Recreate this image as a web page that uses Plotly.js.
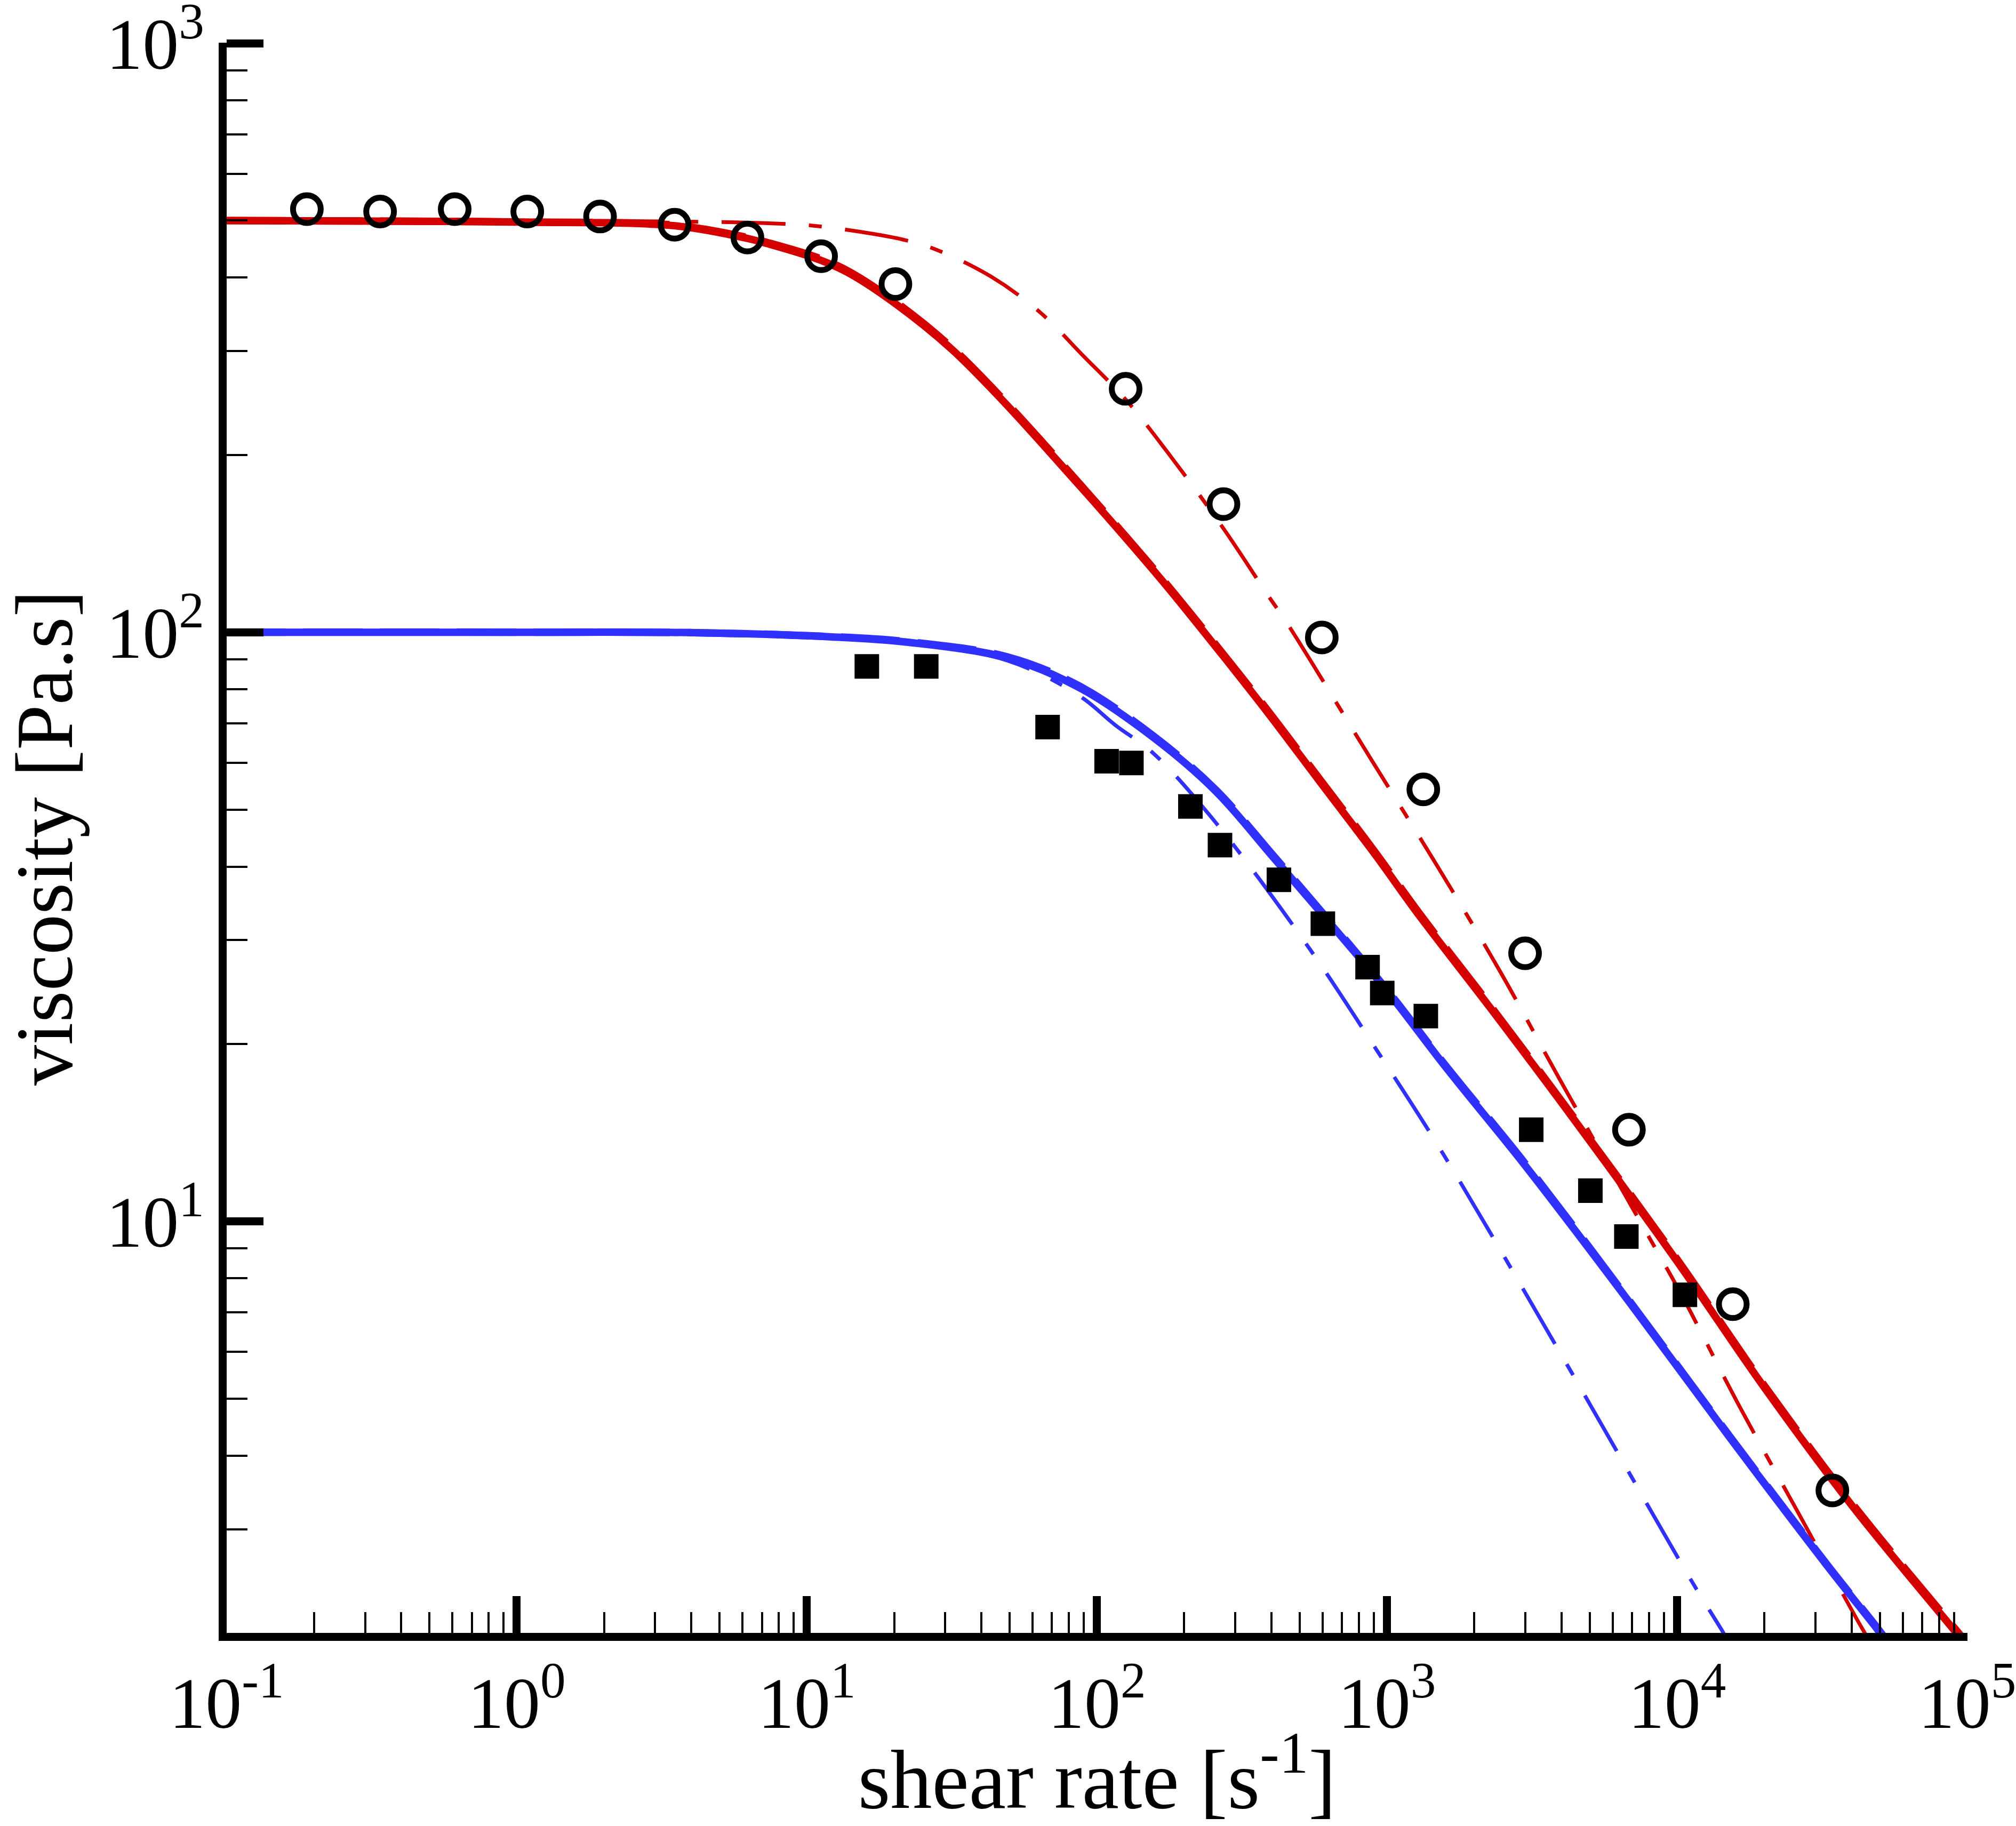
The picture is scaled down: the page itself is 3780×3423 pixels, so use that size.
<!DOCTYPE html>
<html>
<head>
<meta charset="utf-8">
<script src="https://cdn.plot.ly/plotly-3.0.1.min.js"></script>
<style>
html,body{margin:0;padding:0;background:#fff;}
#chart{width:3780px;height:3423px;}
</style>
</head>
<body>
<div id="chart"></div>
<script>
// ---------- data ----------
// experimental data, sample 1 (open circles)
var circleX = [0.189, 0.338, 0.611, 1.087, 1.937, 3.50, 6.24, 11.2, 20.2, 125.6, 273, 596, 1334, 2992, 6823, 15560, 34300];
var circleY = [523, 518, 523, 518, 508, 492, 468, 435, 390, 259, 165, 98.0, 54.1, 28.5, 14.3, 7.23, 3.49];

// experimental data, sample 2 (filled squares)
var squareX = [16.1, 25.8, 67.6, 108, 131.5, 210, 265.6, 424, 601, 857, 963, 1361, 3142, 5024, 6685, 10640];
var squareY = [87.5, 87.5, 69.0, 60.4, 60.0, 50.6, 43.5, 38.0, 32.0, 27.0, 24.4, 22.3, 14.3, 11.27, 9.42, 7.50];

// red model curves
var redSolidX = [0.1, 0.316, 1.05, 3.50, 6.19, 7.29, 11.12, 13.93, 20.18, 31.33, 46.99, 78.52, 127.1, 174.2, 265, 390, 596, 908, 1288, 2259, 4276, 9931, 20040, 40460, 89540, 100000];
var redSolidY = [500, 499, 497, 490, 466.7, 457, 428.5, 407.4, 361.4, 303.4, 248.3, 187.9, 143.6, 119.7, 92.7, 72.8, 55.2, 42.0, 33.1, 23.1, 15.2, 8.59, 5.21, 3.27, 2.03, 1.90];
var redDashX = [0.1, 0.316, 1.05, 3.50, 6.19, 7.29, 11.12, 13.93, 20.18, 31.33, 46.99, 78.52, 127.1, 174.2, 265, 390, 596, 908, 1288, 2259, 4276, 9931, 20040, 40460, 89540, 100000];
var redDashY = [500, 499, 497, 491, 468.5, 459, 431, 410, 364, 305.5, 250, 189.3, 144.6, 120.5, 93.4, 73.4, 55.7, 42.4, 33.4, 23.3, 15.3, 8.66, 5.25, 3.30, 2.05, 1.92];
var redDashDotX = [0.1, 1, 5.09, 7.16, 10.57, 17.2, 21.9, 27.7, 43.4, 63.8, 89.5, 126, 174, 273, 391, 450, 875, 1472, 2438, 3917, 7362, 10280, 16220, 26060, 41880, 45710];
var redDashDotY = [500, 500, 497, 495, 490, 474, 463, 447, 401, 349, 295, 248, 203, 150, 115, 104, 61.2, 40.5, 26.7, 17.5, 10.1, 7.55, 4.90, 3.21, 2.10, 1.95];

// blue model curves
var blueSolidX = [0.1, 1, 4.27, 12.2, 22.1, 49.2, 86.3, 157, 256, 405, 638, 1007, 1589, 3006, 6745, 15100, 32730, 48980, 52480];
var blueSolidY = [100, 100, 99.8, 98.2, 96.2, 90.4, 80.7, 66.2, 53.8, 41.5, 32.0, 24.5, 18.3, 12.4, 7.36, 4.31, 2.61, 2.03, 1.94];
var blueDashX = [0.1, 1, 4.27, 12.2, 22.1, 49.2, 86.3, 157, 256, 405, 638, 1007, 1589, 3006, 6745, 15100, 32730, 48980, 52480];
var blueDashY = [100, 100, 99.8, 98.3, 96.4, 90.8, 81.2, 66.6, 54.1, 41.8, 32.2, 24.6, 18.4, 12.5, 7.40, 4.33, 2.62, 2.04, 1.95];
var blueDashDotX = [0.1, 1, 4.27, 12.2, 22.1, 49.2, 86.3, 116, 157, 256, 536, 923, 1563, 4198, 11220, 14450, 15140];
var blueDashDotY = [100, 100, 99.8, 98.2, 96.0, 89.5, 78.2, 69.5, 62.2, 47.6, 29.2, 19.5, 13.0, 5.68, 2.45, 2.0, 1.92];

// axis tick labels
var xTickVals = [0.1, 1, 10, 100, 1000, 10000, 100000];
var xTickText = ['10<sup>-1</sup>', '10<sup>0</sup>', '10<sup>1</sup>', '10<sup>2</sup>', '10<sup>3</sup>', '10<sup>4</sup>', '10<sup>5</sup>'];
var yTickVals = [10, 100, 1000];
var yTickText = ['10<sup>1</sup>', '10<sup>2</sup>', '10<sup>3</sup>'];
var xTitle = 'shear rate [s<sup>-1</sup>]';
var yTitle = 'viscosity [Pa.s]';

// ---------- styling ----------
var RED = '#d40000';
var BLUE = '#3030ff';
var FONT = 'Liberation Serif, Times New Roman, serif';
var DASHDOT = '120px,44px,24px,44px';
var DASH = '110px,34px';

function minorTicks(lo, hi) {
  var v = [];
  for (var e = lo; e < hi; e++) {
    for (var d = 2; d <= 9; d++) v.push(d * Math.pow(10, e));
  }
  return v;
}

var traces = [
  {x: redDashDotX, y: redDashDotY, mode: 'lines', line: {color: RED, width: 7, dash: DASHDOT, shape: 'spline'}},
  {x: blueDashDotX, y: blueDashDotY, mode: 'lines', line: {color: BLUE, width: 7, dash: DASHDOT, shape: 'spline'}},
  {x: redSolidX, y: redSolidY, mode: 'lines', line: {color: RED, width: 14, shape: 'spline'}},
  {x: redDashX, y: redDashY, mode: 'lines', line: {color: RED, width: 14, dash: DASH, shape: 'spline'}},
  {x: blueSolidX, y: blueSolidY, mode: 'lines', line: {color: BLUE, width: 14, shape: 'spline'}},
  {x: blueDashX, y: blueDashY, mode: 'lines', line: {color: BLUE, width: 14, dash: DASH, shape: 'spline'}},
  {x: squareX, y: squareY, mode: 'markers', marker: {symbol: 'square', size: 46, color: '#000', line: {width: 0}}},
  {x: circleX, y: circleY, mode: 'markers', marker: {symbol: 'circle-open', size: 52, color: '#000', line: {width: 11, color: '#000'}}}
];

var axisCommon = {
  type: 'log',
  tickmode: 'array',
  ticks: 'inside',
  ticklen: 69,
  tickwidth: 15,
  tickcolor: '#000',
  showline: true,
  linewidth: 15,
  linecolor: '#000',
  showgrid: false,
  zeroline: false,
  mirror: false,
  ticklabeloverflow: 'allow',
  tickfont: {family: FONT, size: 136, color: '#000'}
};

var layout = {
  width: 3780,
  height: 3423,
  margin: {l: 425, r: 91, t: 80, b: 362},
  paper_bgcolor: '#fff',
  plot_bgcolor: '#fff',
  showlegend: false,
  xaxis: Object.assign({}, axisCommon, {
    range: [-1, 5.001],
    tickvals: xTickVals,
    ticktext: xTickText,
    minor: {tickmode: 'array', tickvals: minorTicks(-1, 5), ticks: 'inside', ticklen: 39, tickwidth: 4, tickcolor: '#000', showgrid: false},
    title: {text: xTitle, font: {family: FONT, size: 156, color: '#000'}, standoff: 60}
  }),
  yaxis: Object.assign({}, axisCommon, {
    range: [0.30103, 3.001],
    tickvals: yTickVals,
    ticktext: yTickText,
    minor: {tickmode: 'array', tickvals: minorTicks(0, 3), ticks: 'inside', ticklen: 39, tickwidth: 4, tickcolor: '#000', showgrid: false},
    title: {text: yTitle, font: {family: FONT, size: 152, color: '#000'}, standoff: 40}
  })
};

Plotly.newPlot('chart', traces, layout, {displayModeBar: false, staticPlot: true});
</script>
</body>
</html>
